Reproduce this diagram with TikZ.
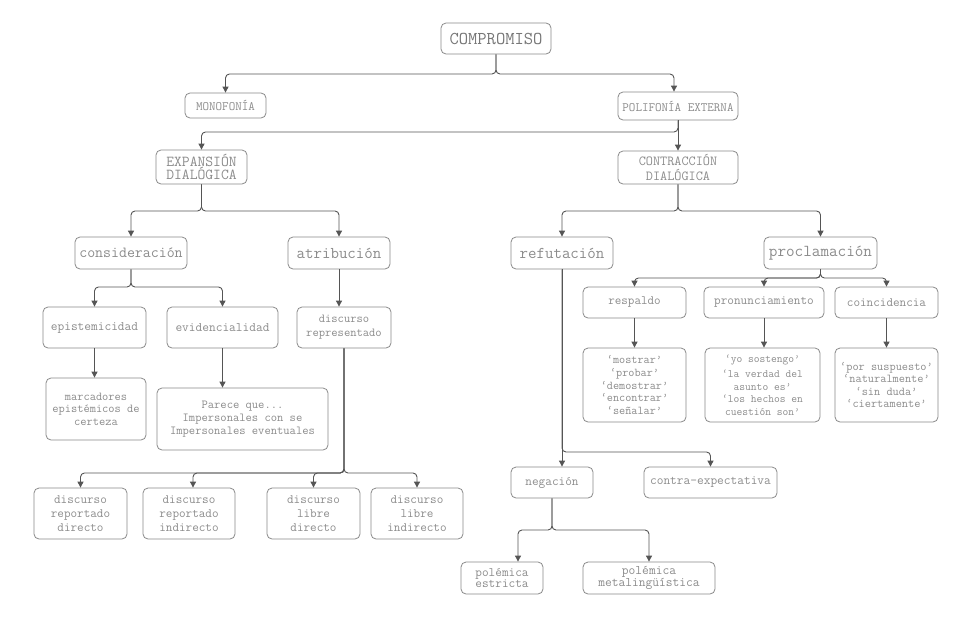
\documentclass[tikz,border=0pt]{standalone}
\usepackage{fontspec}
\usetikzlibrary{arrows.meta,calc}
\definecolor{bordercol}{HTML}{8A8A8A}
\definecolor{textcol}{HTML}{8C8C8C}
\definecolor{darktext}{HTML}{777777}
\definecolor{linecol}{HTML}{555555}
\newcommand{\fsz}[2]{\ttfamily\fontsize{#1pt}{#2pt}\selectfont}
\tikzset{
  box/.style={draw=bordercol, rounded corners=5pt, line width=0.8pt, text=textcol, align=center, inner sep=0pt},
  arr/.style={draw=linecol, line width=0.9pt, rounded corners=4pt, -{Triangle[length=6pt,width=6pt]}},
}
\begin{document}
\begin{tikzpicture}[x=1pt,y=-1pt]
\fill[white] (0,0) rectangle (972,632);
\useasboundingbox (0,0) rectangle (972,632);

% level 0-1
\node[box, text=darktext, minimum width=110pt, minimum height=31pt, font=\fsz{18.06}{18}] (comp) at (496,38.5) {COMPROMISO};
\node[box, minimum width=81pt, minimum height=25pt, font=\fsz{12.69}{13}] (mono) at (225.5,105.5) {MONOFONÍA};
\node[box, minimum width=120pt, minimum height=28pt, font=\fsz{12.69}{13}] (poli) at (678,106) {POLIFONÍA EXTERNA};
\node[box, minimum width=91pt, minimum height=34pt, font=\fsz{15.2}{11.5}] (exp) at (201.5,167) {EXPANSIÓN\\DIALÓGICA};
\node[box, minimum width=120pt, minimum height=33pt, font=\fsz{13.83}{14.7}] (con) at (678,167.5) {CONTRACCIÓN\\DIALÓGICA};

% left branch
\node[box, minimum width=112pt, minimum height=32pt, font=\fsz{15.43}{16}] (consid) at (131,253) {consideración};
\node[box, minimum width=102pt, minimum height=32pt, font=\fsz{16.46}{16}] (atrib) at (339,253) {atribución};
\node[box, minimum width=103pt, minimum height=41pt, font=\fsz{13.03}{14}] (episte) at (94.5,327.5) {epistemicidad};
\node[box, minimum width=111pt, minimum height=41pt, font=\fsz{13.03}{14}] (evid) at (222.5,327.5) {evidencialidad};
\node[box, minimum width=94pt, minimum height=41pt, font=\fsz{12.23}{14}] (drep) at (344,327.5) {discurso\\representado};
\node[box, minimum width=100pt, minimum height=62pt, font=\fsz{12.11}{12.5}] (marc) at (96,409) {marcadores\\epistémicos de\\certeza};
\node[box, minimum width=171pt, minimum height=62pt, font=\fsz{12.23}{13.3}] (parece) at (242.5,419) {Parece que...\\Impersonales con se\\Impersonales eventuales};
\node[box, minimum width=93pt, minimum height=51pt, font=\fsz{12.8}{13.7}] (d1) at (80.5,513.5) {discurso\\reportado\\directo};
\node[box, minimum width=92pt, minimum height=51pt, font=\fsz{12.8}{13.7}] (d2) at (189,513.5) {discurso\\reportado\\indirecto};
\node[box, minimum width=93pt, minimum height=51pt, font=\fsz{12.8}{13.7}] (d3) at (313.5,513.5) {discurso\\libre\\directo};
\node[box, minimum width=92pt, minimum height=51pt, font=\fsz{12.8}{13.7}] (d4) at (417,513.5) {discurso\\libre\\indirecto};

% right branch
\node[box, minimum width=102pt, minimum height=32pt, font=\fsz{16.46}{16}] (refut) at (562,253) {refutación};
\node[box, minimum width=113pt, minimum height=32pt, font=\fsz{16.69}{16}] (procl) at (820.5,253) {proclamación};
\node[box, minimum width=103pt, minimum height=31pt, font=\fsz{12.69}{13}] (resp) at (634.5,302.5) {respaldo};
\node[box, minimum width=120pt, minimum height=31pt, font=\fsz{12.91}{13}] (pron) at (764,302.5) {pronunciamiento};
\node[box, minimum width=103pt, minimum height=31pt, font=\fsz{12.8}{13}] (coin) at (886.5,302.5) {coincidencia};
\node[box, minimum width=103pt, minimum height=74pt, font=\fsz{11.89}{12.6}] (respL) at (634.5,385) {‘mostrar’\\‘probar’\\‘demostrar’\\‘encontrar’\\‘señalar’};
\node[box, minimum width=115pt, minimum height=74pt, font=\fsz{11.2}{12.4}] (pronL) at (762.5,385) {‘yo sostengo’\\[3pt]‘la verdad del\\asunto es’\\‘los hechos en\\cuestión son’};
\node[box, minimum width=103pt, minimum height=74pt, font=\fsz{12}{12.4}] (coinL) at (886.5,385) {‘por suspuesto’\\‘naturalmente’\\‘sin duda’\\‘ciertamente’};
\node[box, minimum width=82pt, minimum height=31pt, font=\fsz{12.91}{13}] (neg) at (552,482.5) {negación};
\node[box, minimum width=133pt, minimum height=31pt, font=\fsz{13.03}{13}] (contra) at (710.5,482.5) {contra-expectativa};
\node[box, minimum width=82pt, minimum height=32pt, font=\fsz{12.91}{10.5}] (pest) at (502,578) {polémica\\estricta};
\node[box, minimum width=132pt, minimum height=32pt, font=\fsz{13.14}{10.5}] (pmeta) at (649,578) {polémica\\metalingüística};

% bus levels
\coordinate (y74) at (0,74);
\coordinate (y132) at (0,132);
\coordinate (y211) at (0,211);
\coordinate (y287) at (0,287);
\coordinate (y278) at (0,278);
\coordinate (y473) at (0,473);
\coordinate (y452) at (0,452);
\coordinate (y530) at (0,530);
\coordinate (politop) at ($(poli.north)+(-4,0)$);
\coordinate (d2top) at ($(d2.north)+(4,0)$);
\coordinate (pesttop) at ($(pest.north)+(16,0)$);

% connectors
\draw[arr] (comp.south) -- (comp.south |- y74) -| (mono.north);
\draw[arr] (comp.south) -- (comp.south |- y74) -| (politop);
\draw[arr] (poli.south) -- (poli.south |- y132) -| (exp.north);
\draw[arr] (poli.south) -- (con.north);
\draw[arr] (exp.south) -- (exp.south |- y211) -| (consid.north);
\draw[arr] (exp.south) -- (exp.south |- y211) -| (atrib.north);
\draw[arr] (con.south) -- (con.south |- y211) -| (refut.north);
\draw[arr] (con.south) -- (con.south |- y211) -| (procl.north);
\draw[arr] (consid.south) -- (consid.south |- y287) -| (episte.north);
\draw[arr] (consid.south) -- (consid.south |- y287) -| (evid.north);
\draw[arr] (atrib.south) -- (atrib.south |- drep.north);
\draw[arr] (episte.south) -- (episte.south |- marc.north);
\draw[arr] (evid.south) -- (evid.south |- parece.north);
\draw[arr] (drep.south) -- (drep.south |- y473) -| (d1.north);
\draw[arr] (drep.south) -- (drep.south |- y473) -| (d2top);
\draw[arr] (drep.south) -- (drep.south |- y473) -| (d3.north);
\draw[arr] (drep.south) -- (drep.south |- y473) -| (d4.north);
\draw[arr] (procl.south) -- (procl.south |- y278) -| (resp.north);
\draw[arr] (procl.south) -- (procl.south |- y278) -| (pron.north);
\draw[arr] (procl.south) -- (procl.south |- y278) -| (coin.north);
\draw[arr] (resp.south) -- (resp.south |- respL.north);
\draw[arr] (pron.south) -- (pron.south |- pronL.north);
\draw[arr] (coin.south) -- (coin.south |- coinL.north);
\draw[arr] (refut.south) -- (refut.south |- neg.north);
\draw[arr] (refut.south) -- (refut.south |- y452) -| (contra.north);
\draw[arr] (neg.south) -- (neg.south |- y530) -| (pesttop);
\draw[arr] (neg.south) -- (neg.south |- y530) -| (pmeta.north);
\end{tikzpicture}
\end{document}
